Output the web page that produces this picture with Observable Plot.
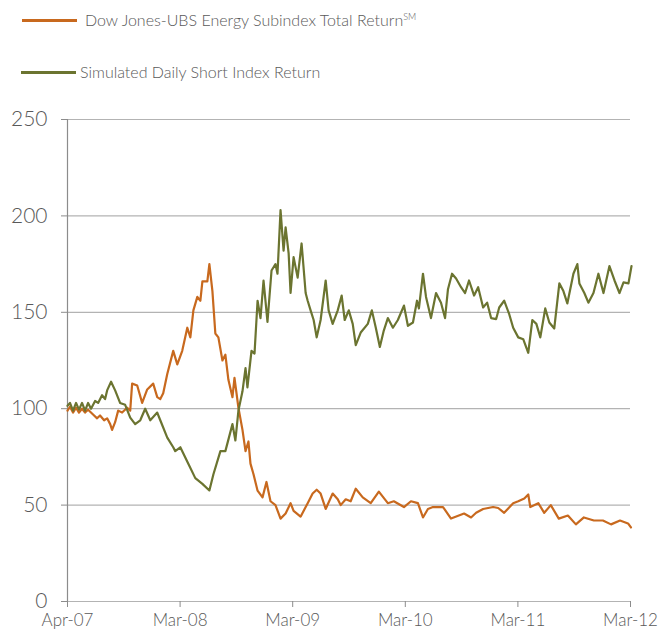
<!DOCTYPE html>
<html>
<head>
<meta charset="utf-8">
<script src="https://cdn.jsdelivr.net/npm/d3@7"></script>
<script src="https://cdn.jsdelivr.net/npm/@observablehq/plot@0.6"></script>
<style>
  html, body { margin: 0; padding: 0; background: #fff; }
  body { width: 662px; height: 633px; position: relative; font-family: Lato, "Open Sans", sans-serif; font-weight: 300; color: #595959; }
  .leg { position: absolute; left: 0; height: 20px; }
  .leg .sw { position: absolute; height: 3px; top: 9px; }
  .leg .tx { position: absolute; top: 0; font-size: 16px; line-height: 20px; white-space: nowrap; color: #595959; }
  .leg sup { font-size: 9px; vertical-align: 6px; line-height: 0; }
  #chart { position: absolute; left: 0; top: 95px; }
</style>
</head>
<body>
<div class="leg" style="top:10px">
  <div class="sw" style="left:22px;width:55px;background:#C8691E"></div>
  <div class="tx" style="left:85px">Dow Jones-UBS Energy Subindex Total Return<sup>SM</sup></div>
</div>
<div class="leg" style="top:62px">
  <div class="sw" style="left:21px;width:55px;background:#6B7430"></div>
  <div class="tx" style="left:80px">Simulated Daily Short Index Return</div>
</div>
<div id="chart"></div>
<script>
// x positions: years elapsed since the start of the series (Apr-07)
const xTickLabels = ["Apr-07", "Mar-08", "Mar-09", "Mar-10", "Mar-11", "Mar-12"];
const yTicks = [0, 50, 100, 150, 200, 250];

const energyT = [0,0.022,0.049,0.076,0.102,0.129,0.156,0.183,0.227,0.263,0.289,0.325,0.352,0.379,0.396,0.423,0.450,0.485,0.530,0.557,0.574,0.619,0.663,0.708,0.761,0.797,0.824,0.850,0.886,0.939,0.975,1.019,1.064,1.091,1.118,1.153,1.180,1.198,1.242,1.260,1.287,1.313,1.340,1.376,1.402,1.429,1.465,1.483,1.518,1.554,1.581,1.607,1.625,1.652,1.688,1.732,1.767,1.803,1.847,1.892,1.937,1.981,2.008,2.070,2.133,2.177,2.213,2.248,2.293,2.355,2.400,2.426,2.471,2.515,2.560,2.622,2.693,2.765,2.845,2.898,2.988,3.050,3.112,3.157,3.201,3.246,3.335,3.406,3.522,3.584,3.629,3.691,3.780,3.825,3.878,3.958,4.003,4.057,4.092,4.110,4.181,4.234,4.292,4.363,4.444,4.515,4.586,4.675,4.755,4.827,4.907,4.978,5.004];
const energyV = [99,101,98,100.5,98,100,98,99.5,97,95,96.5,94,95,92,89,93,99,98,100.5,99,113,112,103,110,113,106,105,108,118,130,123,130,142,137,151,158,156,166,166,175,161,139,137,125,128,115,106,116,100.5,89,78,83,71.5,66,57.5,54,62,52,50,43,45.6,51,47,44,51,56,58,56,48,56,53,50,53,52,58.5,54,51,57,51,52,49,52,51,43.6,48,49,49,43,45.6,43.6,46,48,49,48.5,46,51,52,53.4,55.5,49,51,46,50,43,44.6,40,43.6,42,42,40,42,40.5,38.4];

const shortT = [0,0.022,0.049,0.076,0.102,0.129,0.156,0.183,0.209,0.245,0.272,0.307,0.334,0.352,0.387,0.423,0.467,0.512,0.557,0.601,0.646,0.690,0.735,0.797,0.824,0.886,0.939,0.957,1.002,1.073,1.135,1.198,1.260,1.296,1.358,1.402,1.465,1.491,1.518,1.554,1.581,1.598,1.634,1.661,1.688,1.714,1.741,1.776,1.812,1.847,1.865,1.892,1.919,1.937,1.964,1.981,2.008,2.044,2.079,2.115,2.133,2.159,2.186,2.213,2.248,2.293,2.319,2.355,2.400,2.435,2.462,2.498,2.533,2.560,2.604,2.667,2.703,2.738,2.774,2.809,2.845,2.890,2.934,2.988,3.023,3.068,3.104,3.121,3.157,3.184,3.228,3.273,3.317,3.353,3.379,3.415,3.451,3.495,3.531,3.566,3.611,3.647,3.691,3.727,3.762,3.807,3.834,3.878,3.923,3.958,4.003,4.048,4.092,4.128,4.164,4.199,4.243,4.279,4.323,4.368,4.404,4.439,4.493,4.528,4.546,4.590,4.626,4.671,4.715,4.760,4.813,4.858,4.902,4.938,4.982,5.009];
const shortV = [101.5,103,99,103,99.5,103,99,103,100,104,103,107,105,109.5,114,109.5,103,102,95.4,92,94,100,94,98,94,85,80,78,80,71.5,64,61,57.6,66,78,78,92,83.5,99,109,121,111,130,128.6,156,147,166.5,145,171.7,175,170,203,182,194,180.5,160,178.6,168,185.7,160,156,151,146,137,146,166.5,151,144,151,158.7,146,151,144,133,139.5,144,151,142,132,140.5,147,142,146,153.5,143,144.7,156,152,170,158,147,160,155,147,162,170,167.5,163,160,166.5,158.7,163,152.5,155,147,146.5,152.5,156,149,142,137,136,129,146,144,137,152,144.7,141.6,165,161,154.6,170,175,165,160,155,160,170,160,174,166.5,160,165.5,165,174];

const energy = energyT.map((t, i) => ({t, v: energyV[i]}));
const short = shortT.map((t, i) => ({t, v: shortV[i]}));

const chart = Plot.plot({
  width: 662,
  height: 538,
  marginLeft: 67,
  marginRight: 32,
  marginTop: 24,
  marginBottom: 32,
  style: {fontFamily: "Lato, 'Open Sans', sans-serif", color: "#595959", background: "transparent"},
  x: {domain: [0, 5]},
  y: {domain: [0, 250]},
  marks: [
    Plot.gridY(yTicks, {stroke: "#b3b3b3", strokeOpacity: 1, strokeWidth: 1.2}),
    Plot.ruleX([0], {stroke: "#8c8c8c", strokeWidth: 1.2}),
    Plot.line(energy, {x: "t", y: "v", stroke: "#C8691E", strokeWidth: 2.2}),
    Plot.line(short, {x: "t", y: "v", stroke: "#6B7430", strokeWidth: 2.2}),
    Plot.axisY(yTicks, {tickSize: 6, tickPadding: 14, stroke: "#8c8c8c", fontSize: 21, fontWeight: 300, fill: "#595959", label: null}),
    Plot.axisX([0, 1, 2, 3, 4, 5], {tickSize: 6, tickPadding: 6, stroke: "#8c8c8c", fontSize: 17, fontWeight: 300, fill: "#595959", tickFormat: i => xTickLabels[i], label: null})
  ]
});
document.getElementById("chart").appendChild(chart);
</script>
</body>
</html>
